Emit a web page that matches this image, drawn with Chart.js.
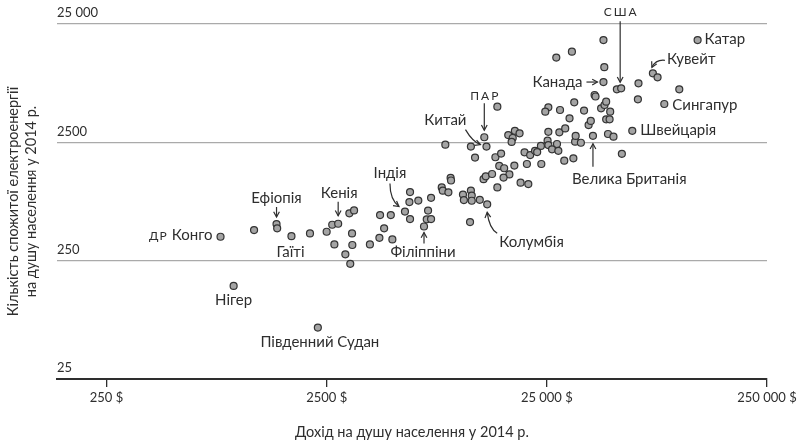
<!DOCTYPE html>
<html>
<head>
<meta charset="utf-8">
<script src="https://cdn.jsdelivr.net/npm/chart.js@4.4.1/dist/chart.umd.min.js"></script>
<style>
  html, body { margin: 0; padding: 0; background: #fff; }
</style>
</head>
<body>
<canvas id="chart" width="801" height="443"></canvas>
<script>
// income per person, $ (2014)
const income = [
  824, 945, 2280, 1170, 1480, 1490, 1730, 2100, 2500, 2650,
  2820, 3260, 2710, 3270, 3040, 3200, 3170, 3330, 3930, 4340,
  4970, 4370, 4890, 4560, 5670, 5980, 5980, 5940, 6520, 7450,
  7220, 7120, 7450, 6920, 8330, 8420, 8930, 9140, 9180, 10400,
  11300, 11400, 10500, 11400, 12400, 13400, 11200, 12900, 13200, 14100,
  14900, 8650, 11300, 13300, 13000, 11800, 14900, 14600, 15500, 16700,
  17900, 18800, 17500, 17300, 15200, 16000, 17800, 16900, 15900, 19000,
  20600, 19800, 20300, 21000, 22100, 23500, 23600, 25200, 25400, 27800,
  26400, 28200, 30000, 33000, 33600, 35700, 25400, 28500, 30300, 31700,
  33800, 40500, 38700, 39600, 25400, 24600, 28700, 33300, 36900, 41200,
  41600, 44100, 45700, 46500, 48500, 46500, 48200, 47400, 50200, 54800,
  61100, 85400, 64800, 65200, 99900, 75800, 79600, 121000, 52000, 54400,
  45200, 45600, 45200, 27600, 32500, 22600
];
// electricity used per person, kWh (2014)
const power = [
  398, 153, 68, 453, 510, 469, 403, 425, 439, 503,
  513, 425, 343, 339, 283, 235, 628, 665, 343, 390,
  378, 607, 607, 469, 650, 562, 950, 782, 805, 850,
  663, 559, 562, 486, 1040, 975, 945, 1250, 1190, 905,
  978, 888, 813, 802, 816, 748, 530, 1220, 1290, 1350,
  1040, 2390, 2300, 2300, 2760, 1860, 5000, 1870, 2010, 2880,
  3130, 2980, 2720, 2520, 1580, 1510, 1590, 1340, 1260, 1140,
  1110, 2060, 1640, 1950, 2120, 2330, 1640, 2580, 2370, 2420,
  2180, 2120, 1750, 1830, 2530, 2480, 3070, 3040, 3280, 3990,
  2830, 2840, 3500, 3790, 4940, 4540, 4690, 5450, 4640, 6280,
  6100, 4850, 5170, 5510, 4540, 3910, 3910, 2940, 2790, 2000,
  3130, 5270, 5770, 7880, 7010, 9580, 8860, 18300, 7010, 7150,
  8080, 10800, 18300, 13000, 14600, 2070
];

const xTicks = [250, 2500, 25000, 250000];
const xTickLabels = ['250 $', '2500 $', '25 000 $', '250 000 $'];
const yTicks = [25, 250, 2500, 25000];
const yTickLabels = ['25', '250', '2500', '25 000'];

const INK = '#2e2e2e';
const FONT = 'Lato, "Noto Sans", sans-serif';

// country notes: index into the arrays above, text offset and arrow path from the point
const notes = [
  {i: 0, text: 'Конго', prefix: 'ДР', dx: -8, dy: -2, align: 'right'},
  {i: 1, text: 'Нігер', dx: 0, dy: 14, align: 'center'},
  {i: 2, text: 'Південний Судан', dx: 2, dy: 15, align: 'center'},
  {i: 4, text: 'Ефіопія', dx: 0, dy: -26, align: 'center', arrow: [[0, -17], [0, -7]]},
  {i: 6, text: 'Гаїті', dx: -1, dy: 16, align: 'center'},
  {i: 10, text: 'Кенія', dx: 1, dy: -31, align: 'center', arrow: [[0, -22], [0, -8]]},
  {i: 24, text: 'Індія', dx: -15, dy: -38, align: 'center', arrow: [[-15, -28], [-15, -12], [-6, -5]]},
  {i: 33, text: 'Філіппіни', dx: -1, dy: 26, align: 'center', arrow: [[0, 17], [0, 6]]},
  {i: 45, text: 'Колумбія', dx: 12, dy: 38, align: 'left', arrow: [[10, 29], [2, 24], [0, 8]]},
  {i: 53, text: 'Китай', dx: -20, dy: -26, align: 'right', arrow: [[-21, -17], [-14, -5], [-6, -2]]},
  {i: 54, text: 'ПАР', small: true, dx: 0, dy: -41, align: 'center', arrow: [[0, -34], [0, -7]]},
  {i: 91, text: 'Велика Британія', dx: -21, dy: 43, align: 'left', arrow: [[0, 31], [0, 8]]},
  {i: 110, text: 'Швейцарія', dx: 8, dy: -1, align: 'left'},
  {i: 111, text: 'Сингапур', dx: 8, dy: 1, align: 'left'},
  {i: 115, text: 'Кувейт', dx: 14, dy: -14, align: 'left', arrow: [[12, -13], [3, -14], [-1, -6]]},
  {i: 117, text: 'Катар', dx: 7, dy: -1, align: 'left'},
  {i: 119, text: 'США', small: true, dx: -1, dy: -76, align: 'center', arrow: [[-1, -67], [-1, -6]]},
  {i: 120, text: 'Канада', dx: -21, dy: 0, align: 'right', arrow: [[-17, 0], [-6, 0]]}
];

function drawHead(ctx, fx, fy, tx, ty) {
  const a = Math.atan2(ty - fy, tx - fx);
  const len = 6, spread = 0.5;
  ctx.beginPath();
  ctx.moveTo(tx - len * Math.cos(a - spread), ty - len * Math.sin(a - spread));
  ctx.lineTo(tx, ty);
  ctx.lineTo(tx - len * Math.cos(a + spread), ty - len * Math.sin(a + spread));
  ctx.stroke();
}

const notesPlugin = {
  id: 'notes',
  afterDatasetsDraw(chart) {
    const ctx = chart.ctx;
    const xs = chart.scales.x, ys = chart.scales.y;
    ctx.save();
    ctx.fillStyle = INK;
    ctx.strokeStyle = INK;
    ctx.lineWidth = 1.2;
    ctx.textBaseline = 'middle';
    for (const n of notes) {
      const px = xs.getPixelForValue(income[n.i]);
      const py = ys.getPixelForValue(power[n.i]);
      const tx = px + n.dx, ty = py + n.dy;
      if (n.small) {
        ctx.font = '12px ' + FONT;
        ctx.letterSpacing = '2px';
        ctx.textAlign = n.align;
        ctx.fillText(n.text, tx + (n.align === 'center' ? 1 : 0), ty);
        ctx.letterSpacing = '0px';
      } else if (n.prefix) {
        ctx.font = '15px ' + FONT;
        ctx.textAlign = 'right';
        ctx.fillText(n.text, tx, ty);
        const w = ctx.measureText(n.text).width;
        ctx.font = '12px ' + FONT;
        ctx.letterSpacing = '1px';
        ctx.fillText(n.prefix, tx - w - 4, ty + 1);
        ctx.letterSpacing = '0px';
      } else {
        ctx.font = '15px ' + FONT;
        ctx.textAlign = n.align;
        ctx.fillText(n.text, tx, ty);
      }
      if (n.arrow) {
        const p = n.arrow.map(([ax, ay]) => [px + ax, py + ay]);
        ctx.beginPath();
        ctx.moveTo(p[0][0], p[0][1]);
        if (p.length === 3) {
          ctx.quadraticCurveTo(p[1][0], p[1][1], p[2][0], p[2][1]);
        } else {
          ctx.lineTo(p[1][0], p[1][1]);
        }
        ctx.stroke();
        const from = p[p.length - 2], to = p[p.length - 1];
        drawHead(ctx, from[0], from[1], to[0], to[1]);
      }
    }
    ctx.restore();
  }
};

const points = income.map((v, k) => ({x: v, y: power[k]}));

new Chart(document.getElementById('chart'), {
  type: 'scatter',
  data: {
    datasets: [{
      data: points,
      pointRadius: 3.5,
      pointBackgroundColor: '#a4a4a4',
      pointBorderColor: '#333',
      pointBorderWidth: 1.2,
      clip: false
    }]
  },
  options: {
    responsive: false,
    animation: false,
    layout: {padding: {left: 0, right: 34, top: 24, bottom: 0}},
    plugins: {legend: {display: false}, tooltip: {enabled: false}},
    scales: {
      x: {
        type: 'logarithmic',
        position: 'bottom',
        min: 149,
        max: 250000,
        afterBuildTicks: s => { s.ticks = xTicks.map(v => ({value: v})); },
        afterFit: s => { s.height = 64; },
        ticks: {
          color: INK,
          font: {family: FONT, size: 13},
          padding: 3,
          maxRotation: 0,
          autoSkip: false,
          callback: (v, idx) => xTickLabels[idx]
        },
        grid: {drawOnChartArea: false, drawTicks: true, tickLength: 8, color: INK, lineWidth: 1.3},
        border: {color: INK, width: 2},
        title: {
          display: true,
          text: 'Дохід на душу населення у 2014 р.',
          color: INK,
          font: {family: FONT, size: 14.5},
          padding: {top: 0, bottom: 2}
        }
      },
      y: {
        type: 'logarithmic',
        position: 'left',
        min: 25,
        max: 25000,
        afterBuildTicks: s => { s.ticks = yTicks.map(v => ({value: v})); },
        afterFit: s => { s.width = 57; },
        ticks: {
          mirror: true,
          padding: 0,
          labelOffset: -11,
          color: INK,
          font: {family: FONT, size: 13},
          autoSkip: false,
          callback: (v, idx) => yTickLabels[idx]
        },
        grid: {drawTicks: false, color: '#aaaaaa', lineWidth: 1.3},
        border: {display: false},
        title: {
          display: true,
          text: ['Кількість спожитої електроенергії', 'на душу населення у 2014 р.'],
          color: INK,
          font: {family: FONT, size: 14.5, lineHeight: '18px'},
          padding: {top: 4, bottom: 0}
        }
      }
    }
  },
  plugins: [notesPlugin]
});
</script>
</body>
</html>
